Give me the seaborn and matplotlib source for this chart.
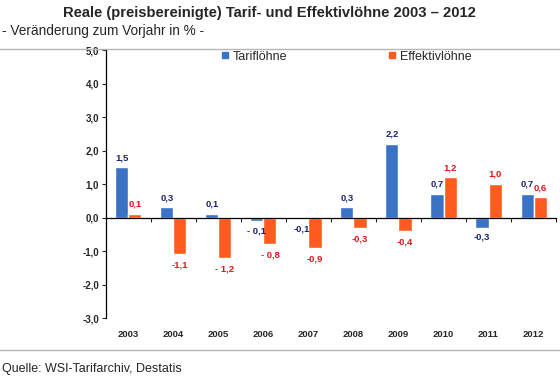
import pandas as pd
import matplotlib
matplotlib.use("Agg")
import matplotlib.pyplot as plt
import seaborn as sns
from matplotlib.lines import Line2D

# data
jahre = ["2003", "2004", "2005", "2006", "2007", "2008", "2009", "2010", "2011", "2012"]
tarif = [1.5, 0.3, 0.1, -0.1, -0.05, 0.3, 2.2, 0.7, -0.3, 0.7]
effektiv = [0.1, -1.1, -1.2, -0.8, -0.9, -0.3, -0.4, 1.2, 1.0, 0.6]
tarif_labels = ["1,5", "0,3", "0,1", "- 0,1", "-0,1", "0,3", "2,2", "0,7", "-0,3", "0,7"]
effektiv_labels = ["0,1", "-1,1", "- 1,2", "- 0,8", "-0,9", "-0,3", "-0,4", "1,2", "1,0", "0,6"]
reihen = ["Tariflöhne", "Effektivlöhne"]
y_ticks = [5.0, 4.0, 3.0, 2.0, 1.0, 0.0, -1.0, -2.0, -3.0]

df = pd.DataFrame({
    "Jahr": jahre * 2,
    "Wert": tarif + effektiv,
    "Reihe": [reihen[0]] * len(jahre) + [reihen[1]] * len(jahre),
})

sns.set_style("white")
plt.rcParams["font.family"] = ["Liberation Sans", "DejaVu Sans"]

blau = "#3a72c6"
orange = "#ff5b1e"
blau_txt = "#1c2370"
rot_txt = "#e3141c"

fig = plt.figure(figsize=(5.6, 3.82), dpi=100)
ax = fig.add_axes([0.189, 0.1675, 0.804, 0.7015])

sns.barplot(data=df, x="Jahr", y="Wert", hue="Reihe", palette=[blau, orange],
            saturation=1, width=0.58, ax=ax, legend=False)

ax.set_ylim(-3.0, 5.0)
ax.set_xlim(-0.5, len(jahre) - 0.5)
ax.set_xlabel("")
ax.set_ylabel("")

# y axis
ax.set_yticks(y_ticks)
ax.set_yticklabels([f"{v:.1f}".replace(".", ",") for v in y_ticks],
                   fontsize=7, fontweight="bold")
ax.tick_params(axis="y", direction="out", length=3, width=0.8, pad=2, left=True)

# x axis = zero line with ticks between categories
for s in ["top", "right"]:
    ax.spines[s].set_visible(False)
ax.spines["bottom"].set_position(("data", 0))
ax.spines["left"].set_linewidth(0.9)
ax.spines["bottom"].set_linewidth(0.9)
ax.spines["left"].set_color("black")
ax.spines["bottom"].set_color("black")
ax.set_xticks([i + 0.5 for i in range(len(jahre))])
ax.set_xticklabels([])
ax.tick_params(axis="x", direction="out", length=3, width=0.8, bottom=True)

for i, j in enumerate(jahre):
    ax.annotate(j, xy=(i, -3.0), xytext=(0, -12), textcoords="offset points",
                ha="center", va="center", fontsize=6.8, fontweight="bold")

# value labels
bars = ax.patches
tarif_bars = bars[:len(jahre)]
eff_bars = bars[len(jahre):2 * len(jahre)]
for b, v, lab in zip(tarif_bars, tarif, tarif_labels):
    x = b.get_x() + b.get_width() / 2
    off = 7 if v >= 0 else -7
    ax.annotate(lab, xy=(x, v), xytext=(0, off), textcoords="offset points",
                ha="center", va="center", fontsize=6.8, fontweight="bold", color=blau_txt)
for b, v, lab in zip(eff_bars, effektiv, effektiv_labels):
    x = b.get_x() + b.get_width() / 2
    off = 7 if v >= 0 else -8
    ax.annotate(lab, xy=(x, v), xytext=(0, off), textcoords="offset points",
                ha="center", va="center", fontsize=6.8, fontweight="bold", color=rot_txt)

# legend
handles = [Line2D([], [], marker="s", linestyle="none", markersize=4.5, color=blau),
           Line2D([], [], marker="s", linestyle="none", markersize=4.5, color=orange)]
ax.legend(handles, reihen, loc="center", bbox_to_anchor=(0.533, 0.975), ncol=2,
          frameon=False, fontsize=9, handletextpad=0.2, columnspacing=8,
          handlelength=0.8)

# titles and frame lines
fig.text(0.482, 0.965, "Reale (preisbereinigte) Tarif- und Effektivlöhne 2003 – 2012",
         ha="center", va="center", fontsize=10.6, fontweight="bold")
fig.text(0.004, 0.918, "- Veränderung zum Vorjahr in % -", ha="left", va="center", fontsize=9.8)
fig.add_artist(Line2D([0, 1], [0.873, 0.873], transform=fig.transFigure, color="#b5b5b5", lw=1))
fig.add_artist(Line2D([0, 1], [0.084, 0.084], transform=fig.transFigure, color="#b5b5b5", lw=1))
fig.text(0.004, 0.034, "Quelle: WSI-Tarifarchiv, Destatis", ha="left", va="center", fontsize=9)

fig.savefig("out.png", dpi=100)
